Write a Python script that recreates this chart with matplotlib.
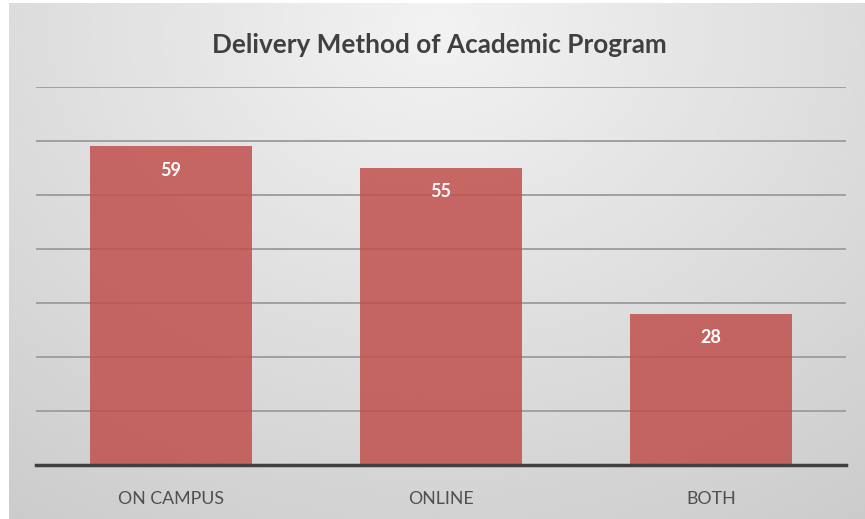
import numpy as np
import matplotlib
matplotlib.use('Agg')
import matplotlib.pyplot as plt

# data
categories = ['ON CAMPUS', 'ONLINE', 'BOTH']
counts = [59, 55, 28]

plt.rcParams['font.family'] = ['Lato', 'DejaVu Sans']

fig = plt.figure(figsize=(8.65, 5.19), dpi=100)
fig.patch.set_facecolor('white')

# gradient background panel (light at top centre, darker at edges)
bg = fig.add_axes([9/865, 0, 856/865, 516/519])
bg.set_axis_off()
yy, xx = np.mgrid[0:1:300j, 0:1:500j]
r = np.sqrt(((xx - 0.5) / 0.75)**2 + ((yy - 0.05) / 1.0)**2)
shade = 0.95 - 0.17 * np.clip(r, 0, 1.3) / 1.3
bg.imshow(shade, cmap='gray', vmin=0, vmax=1, aspect='auto',
          extent=[0, 1, 1, 0], interpolation='bicubic')
bg.set_xlim(0, 1)
bg.set_ylim(1, 0)

ax = fig.add_axes([36/865, 1 - 465/519, 810/865, (465 - 87)/519])
ax.patch.set_alpha(0)
x = np.arange(len(categories))
bars = ax.bar(x, counts, width=0.6, color='#C0504D', alpha=0.85, zorder=3)
ax.set_xlim(-0.5, 2.5)
ax.set_ylim(0, 70)
ax.set_yticks(np.arange(0, 71, 10))
ax.yaxis.grid(True, color='#a0a0a0', linewidth=1.4, zorder=1)
ax.tick_params(axis='y', left=False, labelleft=False)
ax.tick_params(axis='x', bottom=False, pad=15, labelsize=12.8, labelcolor='#505050')
ax.set_xticks(x)
ax.set_xticklabels(categories)
for s in ['top', 'right', 'left']:
    ax.spines[s].set_visible(False)
ax.spines['bottom'].set_color('#404040')
ax.spines['bottom'].set_linewidth(2.5)
ax.spines['bottom'].set_zorder(4)

for xi, v in zip(x, counts):
    ax.annotate(str(v), (xi, v), xytext=(0, -17), textcoords='offset points',
                ha='center', va='center', color='white', fontsize=13,
                fontweight='bold', zorder=5)

fig.text(439/865, 1 - 45/519, 'Delivery Method of Academic Program',
         ha='center', va='center', fontsize=18.8, fontweight='bold', color='#404040')

fig.savefig('out.png', dpi=100)
